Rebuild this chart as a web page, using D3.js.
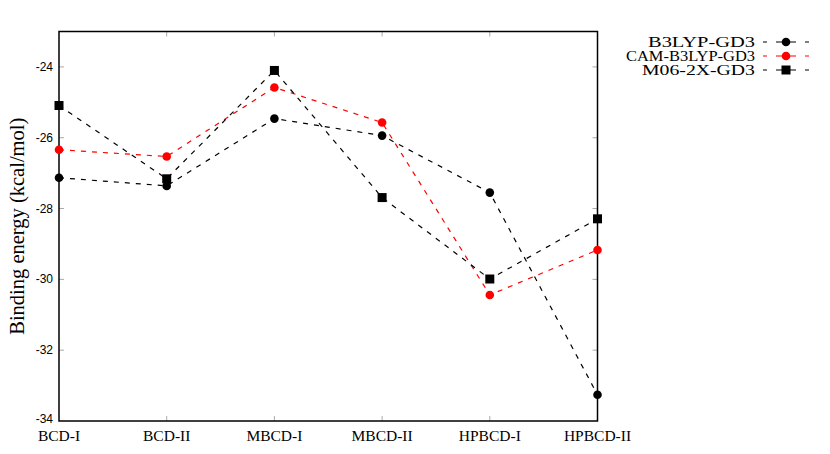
<!DOCTYPE html>
<html>
<head>
<meta charset="utf-8">
<script src="https://cdn.jsdelivr.net/npm/d3@7"></script>
<style>
body{margin:0;background:#fff;}
svg{display:block;}
</style>
</head>
<body>
<svg id="chart" width="830" height="454"></svg>
<script>
const categories = ["BCD-I","BCD-II","MBCD-I","MBCD-II","HPBCD-I","HPBCD-II"];
const b3lyp = [-27.13,-27.36,-25.46,-25.94,-27.55,-33.26];
const camb3lyp = [-26.34,-26.53,-24.58,-25.57,-30.44,-29.17];
const m062x = [-25.09,-27.16,-24.10,-27.69,-29.99,-28.29];
const yTicks = [-24,-26,-28,-30,-32,-34];
const seriesNames = ["B3LYP-GD3","CAM-B3LYP-GD3","M06-2X-GD3"];

const series = [
  {name: seriesNames[0], values: b3lyp, color: "#000", marker: "circle"},
  {name: seriesNames[1], values: camb3lyp, color: "#ff0000", marker: "circle"},
  {name: seriesNames[2], values: m062x, color: "#000", marker: "square"}
];

const svg = d3.select("#chart");
const L = 59, R = 597.5, T = 31.5, B = 421;
const x = d3.scalePoint().domain(categories).range([L, R]);
const y = d3.scaleLinear().domain([-34, -23]).range([B, T]);

const tickColor = "#aaa";
const tl = 5;
const g = svg.append("g");
yTicks.forEach(t => {
  if (t === -34) return;
  g.append("line").attr("x1", L).attr("x2", L + tl).attr("y1", y(t)).attr("y2", y(t)).attr("stroke", tickColor);
  g.append("line").attr("x1", R - tl).attr("x2", R).attr("y1", y(t)).attr("y2", y(t)).attr("stroke", tickColor);
});
categories.forEach((c, i) => {
  if (i === 0 || i === categories.length - 1) return;
  g.append("line").attr("x1", x(c)).attr("x2", x(c)).attr("y1", B).attr("y2", B - tl).attr("stroke", tickColor);
  g.append("line").attr("x1", x(c)).attr("x2", x(c)).attr("y1", T).attr("y2", T + tl).attr("stroke", tickColor);
});

svg.append("g").selectAll("text").data(yTicks).join("text")
  .attr("x", L - 6).attr("y", d => y(d) + (d === -34 ? 1.5 : 4))
  .attr("text-anchor", "end")
  .attr("font-family", "Liberation Sans, Arial, sans-serif")
  .attr("font-size", 12)
  .text(d => d);

svg.append("g").selectAll("text").data(categories).join("text")
  .attr("x", d => x(d)).attr("y", B + 19.5)
  .attr("text-anchor", "middle")
  .attr("font-family", "Liberation Serif, Times New Roman, serif")
  .attr("font-size", 15.5)
  .text(d => d);

svg.append("text")
  .attr("transform", `translate(24,${(T + B) / 2}) rotate(-90)`)
  .attr("text-anchor", "middle")
  .attr("font-family", "Liberation Serif, Times New Roman, serif")
  .attr("font-size", 20.5)
  .text("Binding energy (kcal/mol)");

const line = d3.line().x((d, i) => x(categories[i])).y(d => y(d));
series.forEach(s => {
  svg.append("path").datum(s.values)
    .attr("d", line)
    .attr("fill", "none")
    .attr("stroke", s.color)
    .attr("stroke-width", 1.2)
    .attr("stroke-dasharray", "5,6");
});

function drawMarker(sel, s, cx, cy) {
  if (s.marker === "circle") {
    sel.append("circle").attr("cx", cx).attr("cy", cy).attr("r", 4.3).attr("fill", s.color);
  } else {
    sel.append("rect").attr("x", cx - 4.5).attr("y", cy - 4.5).attr("width", 9).attr("height", 9).attr("fill", s.color);
  }
}

svg.append("rect").attr("x", L).attr("y", T).attr("width", R - L).attr("height", B - T)
  .attr("fill", "none").attr("stroke", "#000").attr("stroke-width", 1.5);

series.forEach(s => {
  const mg = svg.append("g");
  s.values.forEach((v, i) => drawMarker(mg, s, x(categories[i]), y(v)));
});

const legX = 755, legY0 = 42, legDy = 14;
const legWidths = [107, 129, 113];
series.forEach((s, i) => {
  const ly = legY0 + i * legDy;
  svg.append("text").attr("x", legX).attr("y", ly + 4.5)
    .attr("text-anchor", "end")
    .attr("font-family", "Liberation Serif, Times New Roman, serif")
    .attr("font-size", 14)
    .attr("textLength", legWidths[i])
    .attr("lengthAdjust", "spacingAndGlyphs")
    .text(s.name);
  svg.append("line").attr("x1", 763).attr("x2", 809).attr("y1", ly).attr("y2", ly)
    .attr("stroke", s.color).attr("stroke-width", 1.2).attr("stroke-dasharray", "4,9,20,9,4");
  drawMarker(svg, s, 786, ly);
});
</script>
</body>
</html>
